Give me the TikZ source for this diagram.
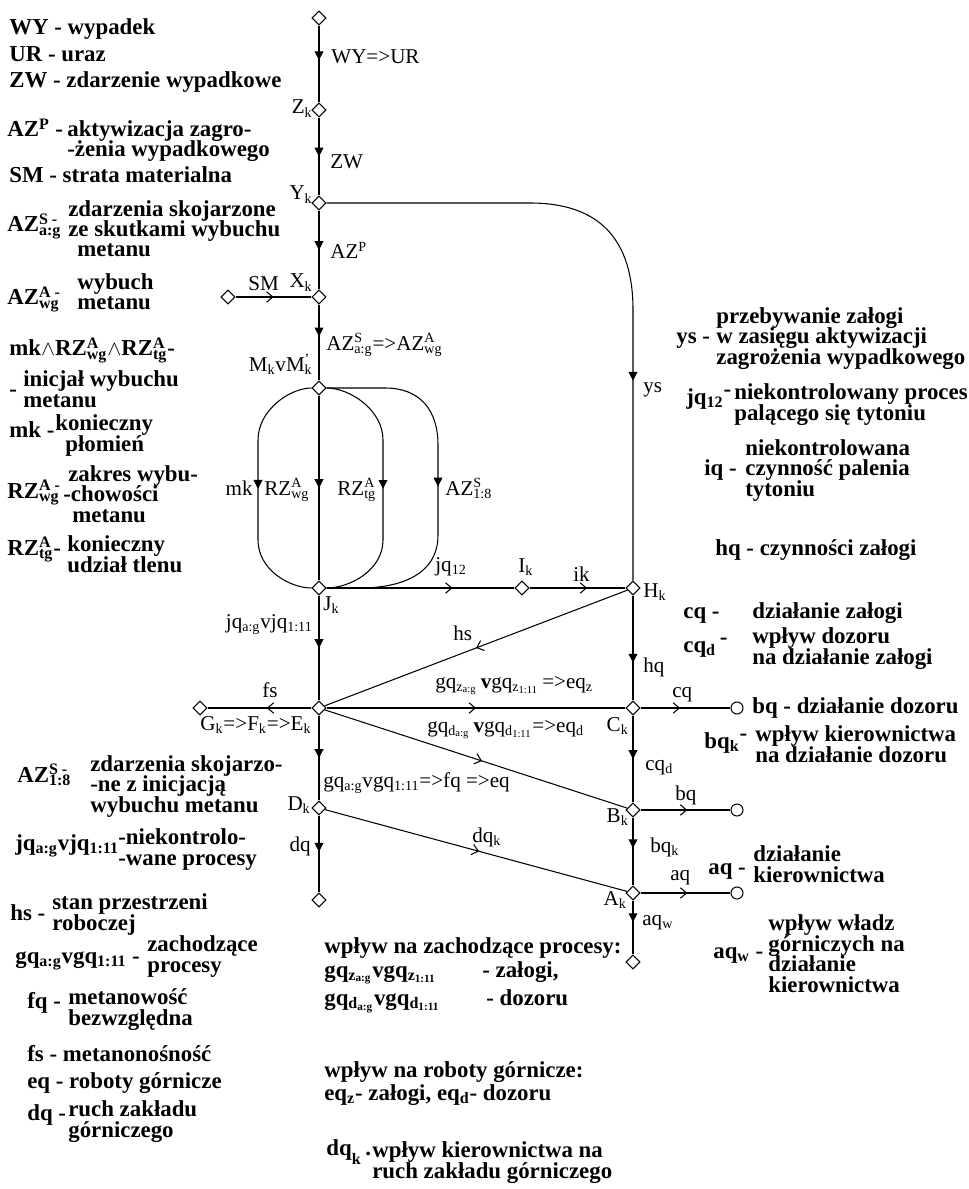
\documentclass[tikz,border=0pt]{standalone}
\usepackage{fontspec}
\setmainfont{Liberation Serif}
\usetikzlibrary{arrows.meta,positioning,shapes.geometric,decorations.markings}
\setlength{\lineskiplimit}{-20pt}
\newcommand{\supsub}[2]{\rlap{\textsuperscript{#1}}\textsubscript{#2}}
\newcommand{\hidash}{\raisebox{0.7ex}{-}}
\tikzset{
  joint/.style={diamond,draw,fill=white,inner sep=0pt,minimum size=0.28cm,line width=0.6pt},
  end node/.style={circle,draw,fill=white,inner sep=0pt,minimum size=0.24cm,line width=0.6pt},
  wire/.style={line width=0.6pt},
  down at/.style={postaction={decorate},decoration={markings,
    mark=at position #1 with {\arrow{Triangle[width=5pt,length=5pt]}}}},
  side at/.style={postaction={decorate},decoration={markings,
    mark=at position #1 with {\arrow{Straight Barb[length=3.5pt,width=6pt]}}}},
  tag/.style={inner sep=0pt,anchor=base west,font=\fontsize{12}{13}\selectfont},
  tag left/.style={tag,anchor=base east},
  legend/.style={inner sep=0pt,anchor=base west,align=left,
    font=\bfseries\fontsize{13}{11.6}\selectfont}
}

\begin{document}
\begin{tikzpicture}[x=0.02cm,y=-0.02cm]
  \useasboundingbox (0,0) rectangle (968,1189);
  % junctions
  \node[joint] (top) at (319,18) {};
  \node[joint] (Z) at (319,110) {};
  \node[joint] (Y) at (319,203) {};
  \node[joint] (X) at (319,297) {};
  \node[joint] (SM) at (228,297) {};
  \node[joint] (M) at (319,388) {};
  \node[joint] (J) at (319,588) {};
  \node[joint] (I) at (522,588) {};
  \node[joint] (H) at (633,588) {};
  \node[joint] (E) at (319,708) {};
  \node[joint] (G) at (200,708) {};
  \node[joint] (C) at (633,708) {};
  \node[joint] (D) at (319,808) {};
  \node[joint] (B) at (633,810) {};
  \node[joint] (A) at (633,893) {};
  \node[joint] (Dout) at (319,900) {};
  \node[joint] (Aout) at (633,962) {};
  \node[end node] (Cend) at (737,708) {};
  \node[end node] (Bend) at (737,810) {};
  \node[end node] (Aend) at (737,893) {};

  % main chain
  \draw[wire,down at=0.45] (top) -- (Z);
  \draw[wire,down at=0.5] (Z) -- (Y);
  \draw[wire,down at=0.5] (Y) -- (X);
  \draw[wire,side at=0.5] (SM) -- (X);
  \draw[wire,down at=0.42] (X) -- (M);
  \draw[wire,down at=0.5] (M) -- (J);
  \draw[wire,down at=0.5] (M) .. controls (290,388) and (258,410) .. (258,440)
    -- (258,540) .. controls (258,570) and (290,588) .. (J);
  \draw[wire,down at=0.5] (M) .. controls (350,388) and (383,410) .. (383,440)
    -- (383,540) .. controls (383,570) and (350,588) .. (J);
  \draw[wire,down at=0.5] (M) -- (385,388) .. controls (420,388) and (438,410) .. (438,445)
    -- (438,535) .. controls (438,575) and (400,588) .. (360,588) -- (J);
  \draw[wire,down at=0.69] (Y) -- (530,203) .. controls (600,203) and (633,240) .. (633,310) -- (H);
  \draw[wire,side at=0.67] (J) -- (I);
  \draw[wire,side at=0.6] (I) -- (H);
  \draw[wire,side at=0.5] (H) -- (E);
  \draw[wire,down at=0.5] (J) -- (E);
  \draw[wire,side at=0.43] (E) -- (G);
  \draw[wire,side at=0.5] (E) -- (C);
  \draw[wire,side at=0.52] (E) -- (B);
  \draw[wire,down at=0.5] (E) -- (D);
  \draw[wire,side at=0.51] (D) -- (A);
  \draw[wire,down at=0.47] (D) -- (Dout);
  \draw[wire,down at=0.64] (H) -- (C);
  \draw[wire,down at=0.5] (C) -- (B);
  \draw[wire,down at=0.45] (B) -- (A);
  \draw[wire,down at=0.4] (A) -- (Aout);
  \draw[wire,side at=0.44] (C) -- (Cend);
  \draw[wire,side at=0.52] (B) -- (Bend);
  \draw[wire,side at=0.52] (A) -- (Aend);

  % labels on the graph
  \node[tag] (tWYUR) at (331,64) {WY=>UR};
  \node[tag left] (tZ) at (313,114) {Z\textsubscript{k}};
  \node[tag] (tZW) at (330,169) {ZW};
  \node[tag left] (tY) at (313,200) {Y\textsubscript{k}};
  \node[tag] (tAZP) at (330,259) {AZ\textsuperscript{P}};
  \node[tag left] (tX) at (313,288) {X\textsubscript{k}};
  \node[tag] (tSM) at (248,291) {SM};
  \node[tag] (tAZSA) at (326,350) {AZ\supsub{S}{a:g}=>AZ\supsub{A}{wg}};
  \node[tag left] (tM) at (313,371) {M\textsubscript{k}vM\supsub{\textquoteright}{k}};
  \node[tag left] (tmk) at (253,495) {mk};
  \node[tag] (tRZw) at (264,495) {RZ\supsub{A}{wg}};
  \node[tag] (tRZt) at (337,495) {RZ\supsub{A}{tg}};
  \node[tag] (tAZ18) at (445,495) {AZ\supsub{S}{1:8}};
  \node[tag] (tJQ12) at (435,571) {jq\textsubscript{12}};
  \node[tag] (tI) at (518,572) {I\textsubscript{k}};
  \node[tag] (tik) at (573,581) {ik};
  \node[tag] (tH) at (643,597) {H\textsubscript{k}};
  \node[tag] (tys) at (643,392) {ys};
  \node[tag] (tJ) at (323,610) {J\textsubscript{k}};
  \node[tag left] (tJQ) at (313,628) {jq\textsubscript{a:g}vjq\textsubscript{1:11}};
  \node[tag] (ths) at (453,640) {hs};
  \node[tag] (tGQz) at (435,688) {gq\textsubscript{z\textsubscript{a:g}}\,\textbf{v}gq\textsubscript{z\textsubscript{1:11}}\,=>eq\textsubscript{z}};
  \node[tag] (tfs) at (262,697) {fs};
  \node[tag] (tGFE) at (200,730) {G\textsubscript{k}=>F\textsubscript{k}=>E\textsubscript{k}};
  \node[tag] (tGQd) at (427,732) {gq\textsubscript{d\textsubscript{a:g}}\,\textbf{v}gq\textsubscript{d\textsubscript{1:11}}=>eq\textsubscript{d}};
  \node[tag left] (tC) at (629,731) {C\textsubscript{k}};
  \node[tag] (tGQ) at (323,787) {gq\textsubscript{a:g}vgq\textsubscript{1:11}=>fq =>eq};
  \node[tag left] (tD) at (311,810) {D\textsubscript{k}};
  \node[tag left] (tB) at (629,822) {B\textsubscript{k}};
  \node[tag left] (tdq) at (311,851) {dq};
  \node[tag] (tdqk) at (472,842) {dq\textsubscript{k}};
  \node[tag] (thq) at (643,672) {hq};
  \node[tag] (tcq) at (672,697) {cq};
  \node[tag] (tcqd) at (645,770) {cq\textsubscript{d}};
  \node[tag] (tbq) at (675,800) {bq};
  \node[tag] (tbqk) at (650,852) {bq\textsubscript{k}};
  \node[tag] (taq) at (670,880) {aq};
  \node[tag] (taqw) at (642,925) {aq\textsubscript{w}};
  \node[tag left] (tA) at (627,905) {A\textsubscript{k}};

  % legend, left column
  \node[legend] (lgWY) at (9,35) {WY - wypadek};
  \node[legend] (lgUR) at (9,62) {UR - uraz};
  \node[legend] (lgZW) at (9,88) {ZW - zdarzenie wypadkowe};
  \node[legend] (lgAZP) at (7,137) {AZ\textsuperscript{P} -};
  \node[legend] (lgAZPd) at (67,157) {aktywizacja zagro-\\-żenia wypadkowego};
  \node[legend] (lgSM) at (9,183) {SM - strata materialna};
  \node[legend] (lgAZS) at (7,232) {AZ\supsub{S -}{a:g}};
  \node[legend] (lgAZSd) at (68,257) {zdarzenia skojarzone\\ze skutkami wybuchu\\\hspace*{0.18cm}metanu};
  \node[legend] (lgAZA) at (7,305) {AZ\supsub{A -}{wg}};
  \node[legend] (lgAZAd) at (77,310) {wybuch\\metanu};
  \node[legend] (lgIni) at (9,356) {mk$\wedge$RZ\supsub{A}{wg}$\wedge$RZ\supsub{A}{tg}-};
  \node[legend] (lgIniDash) at (9,396) {-};
  \node[legend] (lgInid) at (23,407) {inicjał wybuchu\\metanu};
  \node[legend] (lgMK) at (9,437) {mk -};
  \node[legend] (lgMKd) at (55,451) {konieczny\\\hspace*{0.2cm}płomień};
  \node[legend] (lgRZw) at (7,498) {RZ\supsub{A -}{wg}};
  \node[legend] (lgRZwd) at (63,522) {\hspace*{0.1cm}zakres wybu-\\-chowości\\\hspace*{0.18cm}metanu};
  \node[legend] (lgRZt) at (7,555) {RZ\supsub{A}{tg}-};
  \node[legend] (lgRZtd) at (67,572) {konieczny\\udział tlenu};
  \node[legend] (lgAZ18) at (17,782) {AZ\supsub{S -}{1:8}};
  \node[legend] (lgAZ18d) at (90,812) {zdarzenia skojarzo-\\-ne z inicjacją\\wybuchu metanu};
  \node[legend] (lgJQ) at (15,850) {jq\textsubscript{a:g}vjq\textsubscript{1:11}};
  \node[legend] (lgJQd) at (118,865) {-niekontrolo-\\-wane procesy};
  \node[legend] (lgHS) at (10,920) {hs -};
  \node[legend] (lgHSd) at (52,930) {stan przestrzeni\\roboczej};
  \node[legend] (lgGQ) at (15,963) {gq\textsubscript{a:g}vgq\textsubscript{1:11} -};
  \node[legend] (lgGQd) at (147,972) {zachodzące\\procesy};
  \node[legend] (lgFQ) at (27,1008) {fq -};
  \node[legend] (lgFQd) at (68,1025) {metanowość\\bezwzględna};
  \node[legend] (lgFS) at (27,1061) {fs - metanonośność};
  \node[legend] (lgEQ) at (27,1088) {eq - roboty górnicze};
  \node[legend] (lgDQ) at (27,1120) {dq -};
  \node[legend] (lgDQd) at (68,1137) {ruch zakładu\\górniczego};

  % legend, bottom middle
  \node[legend] (lgWpl) at (324,953) {wpływ na zachodzące procesy:};
  \node[legend] (lgGQz) at (324,977) {gq\textsubscript{z\textsubscript{a:g}}vgq\textsubscript{z\textsubscript{1:11}}};
  \node[legend] (lgGQzd) at (482,977) {- załogi,};
  \node[legend] (lgGQdz) at (324,1005) {gq\textsubscript{d\textsubscript{a:g}}vgq\textsubscript{d\textsubscript{1:11}}};
  \node[legend] (lgGQdd) at (486,1005) {- dozoru};
  \node[legend] (lgRob) at (324,1077) {wpływ na roboty górnicze:};
  \node[legend] (lgEQz) at (324,1100) {eq\textsubscript{z}- załogi, eq\textsubscript{d}- dozoru};
  \node[legend] (lgDQk) at (326,1155) {dq\textsubscript{\raisebox{-0.9ex}{k}}\,.};
  \node[legend] (lgDQkd) at (372,1178) {wpływ kierownictwa na\\ruch zakładu górniczego};

  % legend, right column
  \node[legend] (lgYS) at (676,343) {ys -};
  \node[legend] (lgYSd) at (716,364) {przebywanie załogi\\w zasięgu aktywizacji\\zagrożenia wypadkowego};
  \node[legend] (lgJQ12) at (686,404) {jq\textsubscript{12}\hidash};
  \node[legend] (lgJQ12d) at (734,420) {niekontrolowany proces\\palącego się tytoniu};
  \node[legend] (lgIQ) at (704,475) {iq -};
  \node[legend] (lgIQd) at (745,496) {niekontrolowana\\czynność palenia\\tytoniu};
  \node[legend] (lgHQ) at (715,555) {hq - czynności załogi};
  \node[legend] (lgCQ) at (683,618) {cq -};
  \node[legend] (lgCQd) at (752,618) {działanie załogi};
  \node[legend] (lgCQD) at (683,652) {cq\textsubscript{d}\,\hidash};
  \node[legend] (lgCQDd) at (752,664) {wpływ dozoru\\na działanie załogi};
  \node[legend] (lgBQ) at (752,713) {bq - działanie dozoru};
  \node[legend] (lgBQK) at (704,748) {bq\textsubscript{k}\hidash};
  \node[legend] (lgBQKd) at (755,762) {wpływ kierownictwa\\na działanie dozoru};
  \node[legend] (lgAQ) at (708,874) {aq -};
  \node[legend] (lgAQd) at (753,882) {działanie\\kierownictwa};
  \node[legend] (lgAQW) at (713,958) {aq\textsubscript{w} -};
  \node[legend] (lgAQWd) at (768,992) {wpływ władz\\górniczych na\\działanie\\kierownictwa};
\end{tikzpicture}
\end{document}
